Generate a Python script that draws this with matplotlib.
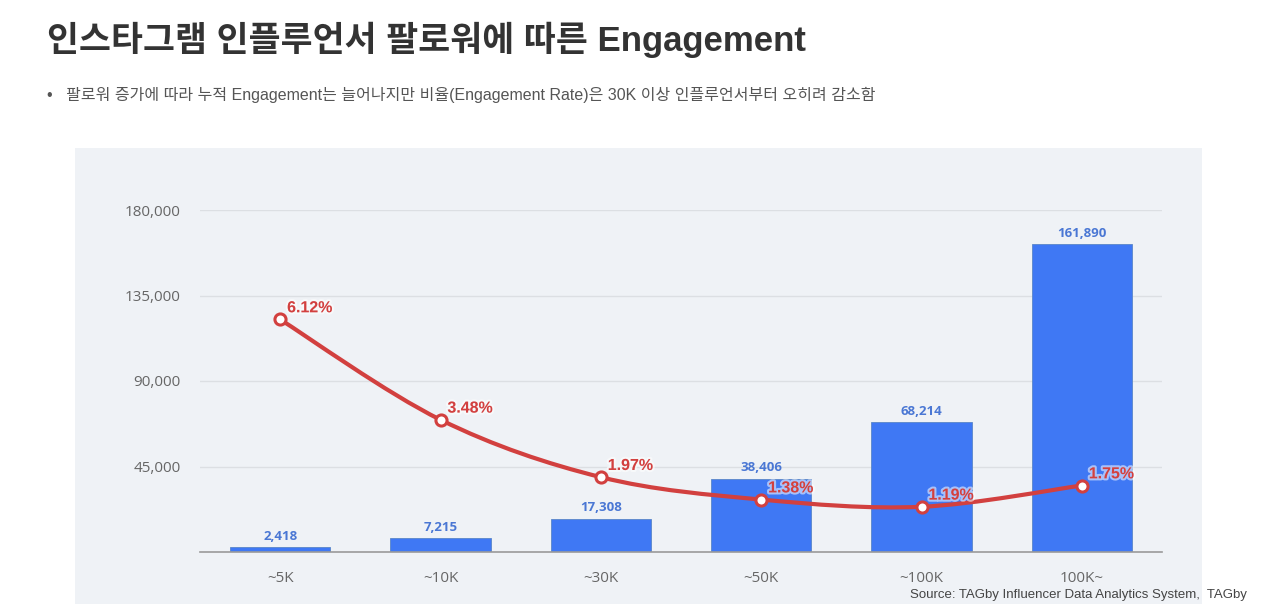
import numpy as np
import matplotlib.pyplot as plt
from matplotlib.path import Path
from matplotlib.patches import PathPatch, Rectangle
import matplotlib.patheffects as pe

plt.rcParams['font.family'] = ['Liberation Sans', 'Noto Sans CJK KR', 'DejaVu Sans']

categories = ['~5K', '~10K', '~30K', '~50K', '~100K', '100K~']
engagement = [2418, 7215, 17308, 38406, 68214, 161890]
rate = [6.12, 3.48, 1.97, 1.38, 1.19, 1.75]
yticks = [45000, 90000, 135000, 180000]

bar_color = '#3f78f4'
label_blue = '#4a77d4'
line_red = '#d2403f'
tick_gray = '#666666'

fig = plt.figure(figsize=(12.76, 6.04), dpi=100)
fig.patch.set_facecolor('white')

# grey panel behind the chart
fig.patches.append(Rectangle((75 / 1276, 0), (1202 - 75) / 1276, 1 - 148 / 604,
                             transform=fig.transFigure, facecolor='#eff2f6',
                             edgecolor='none', zorder=-5))

fig.text(47 / 1276, 1 - 40 / 604, '인스타그램 인플루언서 팔로워에 따른 Engagement',
         fontsize=25, fontweight='bold', color='#333333', va='center', ha='left')
fig.text(47 / 1276, 1 - 95 / 604,
         '•   팔로워 증가에 따라 누적 Engagement는 늘어나지만 비율(Engagement Rate)은 30K 이상 인플루언서부터 오히려 감소함',
         fontsize=11.5, color='#555555', va='center', ha='left')
fig.text(1247 / 1276, 1 - 595 / 604, 'Source: TAGby Influencer Data Analytics System,  TAGby',
         fontsize=9.5, color='#444444', va='center', ha='right')

ax = fig.add_axes([200 / 1276, 1 - 552 / 604, (1162 - 200) / 1276, (552 - 210) / 604])
ax.set_facecolor('none')
x = np.arange(len(categories))

ax.bar(x, engagement, width=0.625, color=bar_color, edgecolor='#5a86c8', linewidth=0.6, zorder=3)
for xi, v in zip(x, engagement):
    ax.text(xi, v + 2500, f'{v:,}', ha='center', va='bottom', fontsize=9.5,
            fontweight='bold', color=label_blue, family=['Open Sans', 'DejaVu Sans'], zorder=4)

ax.set_xlim(-0.5, len(categories) - 0.5)
ax.set_ylim(0, 180000)
ax.set_yticks(yticks)
ax.set_yticklabels([f'{t:,}' for t in yticks])
ax.set_xticks(x)
ax.set_xticklabels(categories)
ax.tick_params(length=0, colors=tick_gray, labelsize=11)
ax.tick_params(axis='y', pad=14)
ax.tick_params(axis='x', pad=14)
for lab in ax.get_xticklabels() + ax.get_yticklabels():
    lab.set_family(['Open Sans', 'DejaVu Sans'])
ax.grid(axis='y', color='#dcdfe3', linewidth=1, zorder=0)
ax.set_axisbelow(True)
for s in ['top', 'right', 'left']:
    ax.spines[s].set_visible(False)
ax.spines['bottom'].set_color('#9a9a9a')
ax.spines['bottom'].set_linewidth(1.2)
ax.spines['bottom'].set_zorder(5)

# engagement rate on a hidden secondary axis
ax2 = ax.twinx()
ax2.set_ylim(0, 9)
ax2.set_facecolor('none')
ax2.axis('off')

# smooth curve through the points (Catmull-Rom as cubic Bezier)
pts = np.column_stack([x, rate]).astype(float)
ext = np.vstack([pts[0], pts, pts[-1]])
verts = [tuple(pts[0])]
codes = [Path.MOVETO]
for i in range(len(pts) - 1):
    p0, p1, p2, p3 = ext[i], ext[i + 1], ext[i + 2], ext[i + 3]
    c1 = p1 + (p2 - p0) / 6
    c2 = p2 - (p3 - p1) / 6
    verts += [tuple(c1), tuple(c2), tuple(p2)]
    codes += [Path.CURVE4] * 3
ax2.add_patch(PathPatch(Path(verts, codes), facecolor='none', edgecolor=line_red,
                        linewidth=3, capstyle='round', zorder=5))
ax2.plot(x, rate, linestyle='none', marker='o', markersize=8, markerfacecolor='white',
         markeredgecolor=line_red, markeredgewidth=2.2, zorder=6)
for xi, r in zip(x, rate):
    ax2.annotate(f'{r:.2f}%', (xi, r), xytext=(5, 3), textcoords='offset points',
                 ha='left', va='bottom', fontsize=11.5, fontweight='bold', color=line_red,
                 path_effects=[pe.withStroke(linewidth=3, foreground='white', alpha=0.55)],
                 zorder=7)

fig.savefig('out.png', dpi=100, facecolor='white')
